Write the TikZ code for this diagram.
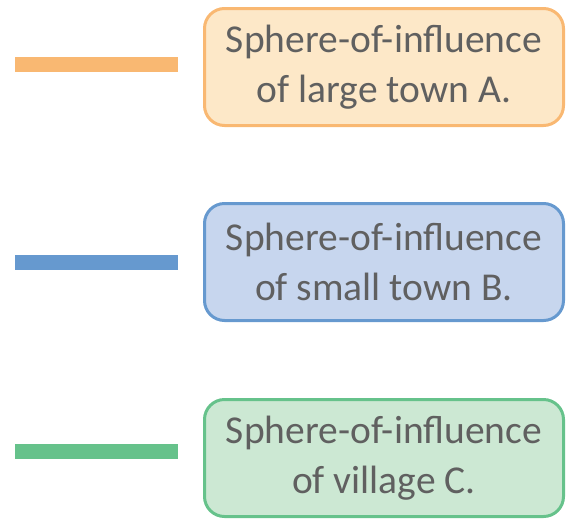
\documentclass[tikz,border=0pt]{standalone}
\usepackage{fontspec}
\setmainfont{Carlito}
\usepackage{tikz}
\usetikzlibrary{positioning}

\definecolor{orangeline}{HTML}{F9B872}
\definecolor{orangefill}{HTML}{FDE8C8}
\definecolor{blueline}{HTML}{6699CF}
\definecolor{bluefill}{HTML}{C7D6EE}
\definecolor{greenline}{HTML}{66C28B}
\definecolor{greenfill}{HTML}{CCE8D3}
\definecolor{labeltext}{HTML}{606060}

\begin{document}
\begin{tikzpicture}[
    x=1pt, y=-1pt,
    keybox/.style={draw, line width=3pt, rounded corners=20pt, align=center,
      minimum width=359pt, minimum height=117pt, inner sep=0pt,
      text=labeltext, font=\fontsize{39.5}{50}\selectfont},
    swatch/.style={minimum width=163pt, minimum height=15pt, inner sep=0pt}
  ]
    \useasboundingbox (0,0) rectangle (570,520);
    \node[keybox, draw=orangeline, fill=orangefill] (townA) at (384,67) {Sphere-of-influence\\ of large town A.};
    \node[keybox, draw=blueline, fill=bluefill] (townB) at (384,262) {Sphere-of-influence\\ of small town B.};
    \node[keybox, draw=greenline, fill=greenfill] (villageC) at (384,458) {Sphere-of-influence\\ of village C.};
    \node[swatch, fill=orangeline] (lineA) at (96.5,64.5) {};
    \node[swatch, fill=blueline] (lineB) at (96.5,262) {};
    \node[swatch, fill=greenline] (lineC) at (96.5,451) {};
  \end{tikzpicture}
\end{document}
